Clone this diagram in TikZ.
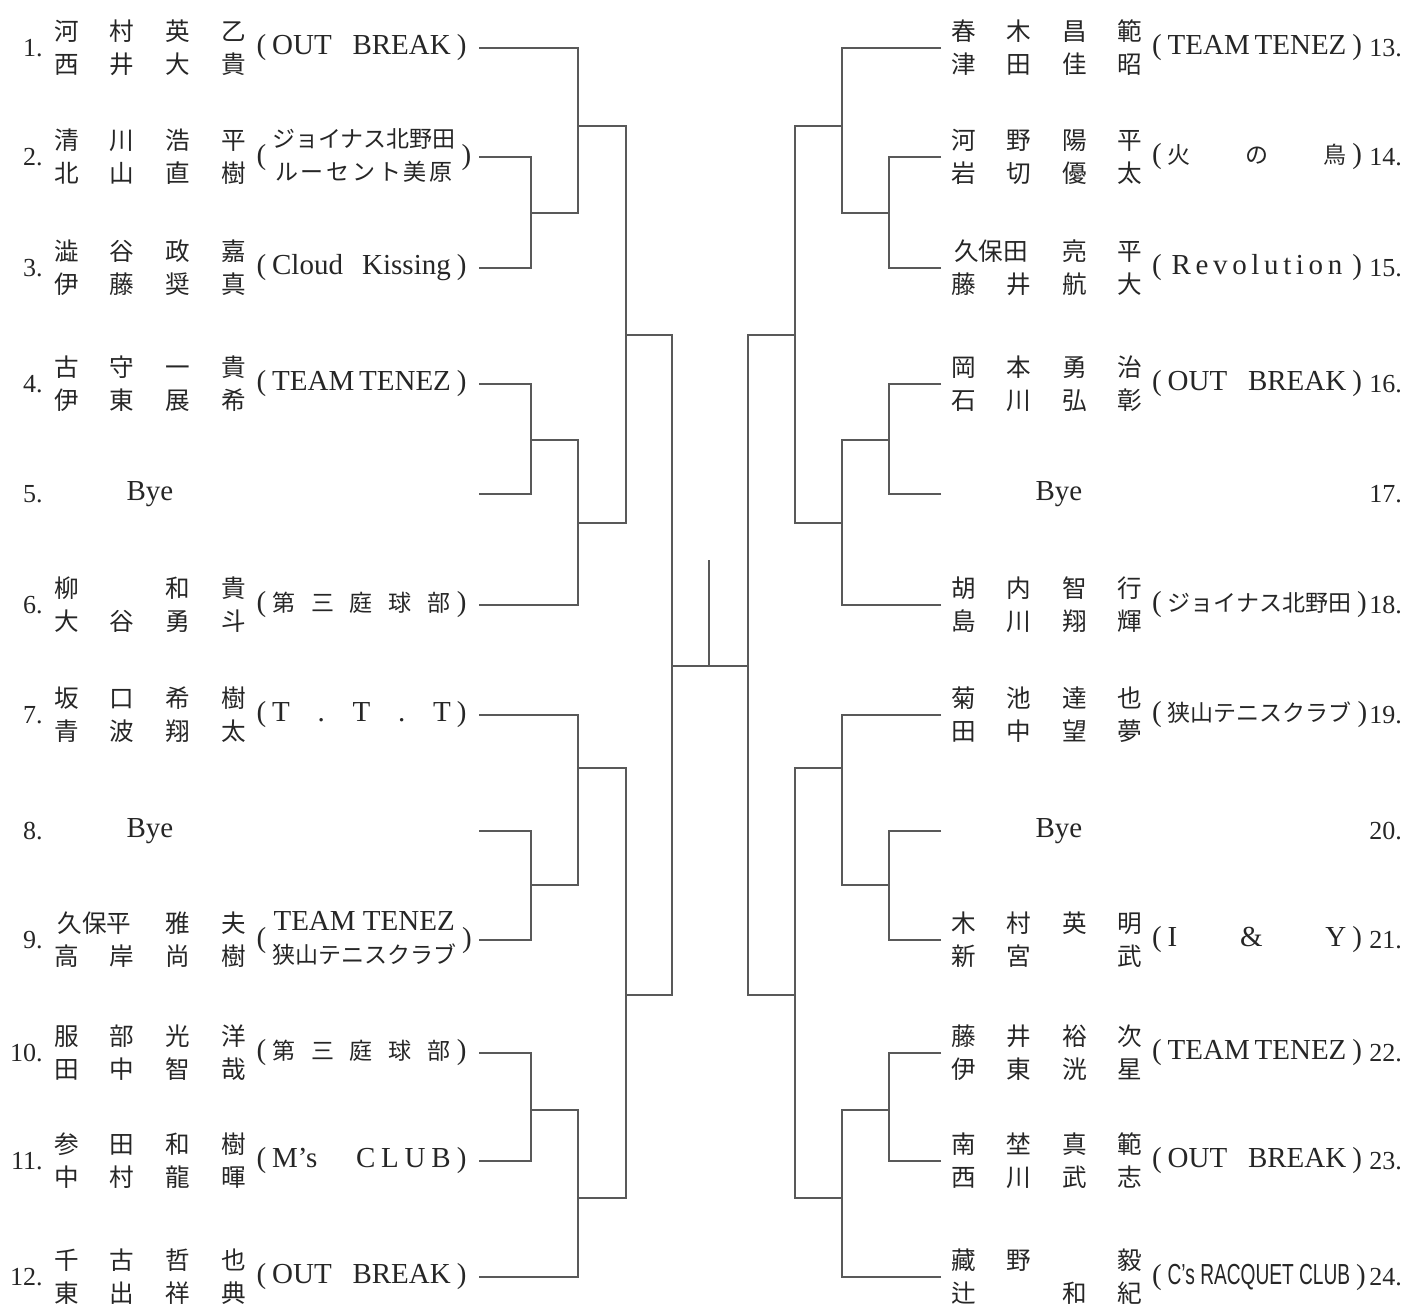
\documentclass[tikz,border=0pt]{standalone}
\usepackage{fontspec}
\usepackage{graphicx}
\setmainfont{Liberation Serif}
\newfontfamily\jp{Noto Sans CJK JP}
\newfontfamily\cnd{Liberation Sans}
\newcommand{\tj}{\fontsize{11.5pt}{16.5pt}\selectfont\jp}
\newcommand{\nr}[4]{\makebox[27.8pt]{#1}\makebox[27.8pt]{#2}\makebox[27.8pt]{#3}\makebox[27.8pt]{#4}}
\newcommand{\nrw}[3]{\makebox[55.6pt]{#1}\makebox[27.8pt]{#2}\makebox[27.8pt]{#3}}
\newcommand{\ls}[2]{{\addfontfeatures{LetterSpace=#1}#2}}
\newcommand{\tm}[1]{\makebox[105pt][s]{(\hspace{3pt}#1\hspace{3pt})}}
\newcommand{\twoline}[2]{\hfill\begin{tabular}{@{}c@{}}#1\\#2\end{tabular}\hfill}
\usetikzlibrary{positioning}

\begin{document}
\begin{tikzpicture}[
    x=0.5pt, y=-0.5pt,
    every node/.style={inner sep=0pt, text=black!85},
    num/.style={font=\fontsize{13pt}{15pt}\selectfont},
    player/.style={font=\fontsize{12.3pt}{16.5pt}\selectfont\jp, align=center},
    team/.style={font=\fontsize{14.5pt}{16.5pt}\selectfont},
    bye/.style={font=\fontsize{14.5pt}{16.5pt}\selectfont},
    line/.style={draw=black!65, line width=0.75pt}
]
    \useasboundingbox (0,0) rectangle (1408,1311);

    % left half
    \node (n1) [num, anchor=east] at (43,48) {1.};
    \node (p1) [player] at (150,48) {\nr{河}{村}{英}{乙}\\\nr{西}{井}{大}{貴}};
    \node (t1) [team] at (361.5,48) {\tm{OUT BREAK}};
    \node (n2) [num, anchor=east] at (43,157) {2.};
    \node (p2) [player] at (150,157) {\nr{清}{川}{浩}{平}\\\nr{北}{山}{直}{樹}};
    \node (t2) [team] at (361.5,157) {\tm{\twoline{\tj ジョイナス北野田}{\tj\ls{12}{ルーセント美原}}}};
    \node (n3) [num, anchor=east] at (43,268) {3.};
    \node (p3) [player] at (150,268) {\nr{澁}{谷}{政}{嘉}\\\nr{伊}{藤}{奨}{真}};
    \node (t3) [team] at (361.5,268) {\tm{Cloud Kissing}};
    \node (n4) [num, anchor=east] at (43,384) {4.};
    \node (p4) [player] at (150,384) {\nr{古}{守}{一}{貴}\\\nr{伊}{東}{展}{希}};
    \node (t4) [team] at (361.5,384) {\tm{TEAM TENEZ}};
    \node (n5) [num, anchor=east] at (43,494) {5.};
    \node (b5) [bye] at (150,494) {Bye};
    \node (n6) [num, anchor=east] at (43,605) {6.};
    \node (p6) [player] at (150,605) {\nr{柳}{}{和}{貴}\\\nr{大}{谷}{勇}{斗}};
    \node (t6) [team] at (361.5,605) {\tm{{\tj 第 三 庭 球 部}}};
    \node (n7) [num, anchor=east] at (43,715) {7.};
    \node (p7) [player] at (150,715) {\nr{坂}{口}{希}{樹}\\\nr{青}{波}{翔}{太}};
    \node (t7) [team] at (361.5,715) {\tm{T . T . T}};
    \node (n8) [num, anchor=east] at (43,831) {8.};
    \node (b8) [bye] at (150,831) {Bye};
    \node (n9) [num, anchor=east] at (43,940) {9.};
    \node (p9) [player] at (150,940) {\nrw{久保平}{雅}{夫}\\\nr{高}{岸}{尚}{樹}};
    \node (t9) [team] at (361.5,940) {\tm{\twoline{TEAM TENEZ}{\tj 狭山テニスクラブ}}};
    \node (n10) [num, anchor=east] at (43,1053) {10.};
    \node (p10) [player] at (150,1053) {\nr{服}{部}{光}{洋}\\\nr{田}{中}{智}{哉}};
    \node (t10) [team] at (361.5,1053) {\tm{{\tj 第 三 庭 球 部}}};
    \node (n11) [num, anchor=east] at (43,1161) {11.};
    \node (p11) [player] at (150,1161) {\nr{参}{田}{和}{樹}\\\nr{中}{村}{龍}{暉}};
    \node (t11) [team] at (361.5,1161) {\tm{M’s \ls{20}{CLUB}}};
    \node (n12) [num, anchor=east] at (43,1277) {12.};
    \node (p12) [player] at (150,1277) {\nr{千}{古}{哲}{也}\\\nr{東}{出}{祥}{典}};
    \node (t12) [team] at (361.5,1277) {\tm{OUT BREAK}};

    % right half
    \node (n13) [num, anchor=west] at (1369,48) {13.};
    \node (p13) [player] at (1046.7,48) {\nr{春}{木}{昌}{範}\\\nr{津}{田}{佳}{昭}};
    \node (t13) [team] at (1257,48) {\tm{TEAM TENEZ}};
    \node (n14) [num, anchor=west] at (1369,157) {14.};
    \node (p14) [player] at (1046.7,157) {\nr{河}{野}{陽}{平}\\\nr{岩}{切}{優}{太}};
    \node (t14) [team] at (1257,157) {\tm{{\tj 火 の 鳥}}};
    \node (n15) [num, anchor=west] at (1369,268) {15.};
    \node (p15) [player] at (1046.7,268) {\nrw{久保田}{亮}{平}\\\nr{藤}{井}{航}{大}};
    \node (t15) [team] at (1257,268) {\tm{\hfill\ls{16}{Revolution}\hfill}};
    \node (n16) [num, anchor=west] at (1369,384) {16.};
    \node (p16) [player] at (1046.7,384) {\nr{岡}{本}{勇}{治}\\\nr{石}{川}{弘}{彰}};
    \node (t16) [team] at (1257,384) {\tm{OUT BREAK}};
    \node (n17) [num, anchor=west] at (1369,494) {17.};
    \node (b17) [bye] at (1059,494) {Bye};
    \node (n18) [num, anchor=west] at (1369,605) {18.};
    \node (p18) [player] at (1046.7,605) {\nr{胡}{内}{智}{行}\\\nr{島}{川}{翔}{輝}};
    \node (t18) [team] at (1257,605) {\tm{\hfill{\tj ジョイナス北野田}\hfill}};
    \node (n19) [num, anchor=west] at (1369,715) {19.};
    \node (p19) [player] at (1046.7,715) {\nr{菊}{池}{達}{也}\\\nr{田}{中}{望}{夢}};
    \node (t19) [team] at (1257,715) {\tm{\hfill{\tj 狭山テニスクラブ}\hfill}};
    \node (n20) [num, anchor=west] at (1369,831) {20.};
    \node (b20) [bye] at (1059,831) {Bye};
    \node (n21) [num, anchor=west] at (1369,940) {21.};
    \node (p21) [player] at (1046.7,940) {\nr{木}{村}{英}{明}\\\nr{新}{宮}{}{武}};
    \node (t21) [team] at (1257,940) {\tm{I \& Y}};
    \node (n22) [num, anchor=west] at (1369,1053) {22.};
    \node (p22) [player] at (1046.7,1053) {\nr{藤}{井}{裕}{次}\\\nr{伊}{東}{洸}{星}};
    \node (t22) [team] at (1257,1053) {\tm{TEAM TENEZ}};
    \node (n23) [num, anchor=west] at (1369,1161) {23.};
    \node (p23) [player] at (1046.7,1161) {\nr{南}{埜}{真}{範}\\\nr{西}{川}{武}{志}};
    \node (t23) [team] at (1257,1161) {\tm{OUT BREAK}};
    \node (n24) [num, anchor=west] at (1369,1277) {24.};
    \node (p24) [player] at (1046.7,1277) {\nr{藏}{野}{}{毅}\\\nr{辻}{}{和}{紀}};
    \node (t24) [team] at (1257,1277) {\tm{\hfill\scalebox{0.66}[1]{\cnd C’s RACQUET CLUB}\hfill}};

    % line ends
    \coordinate (e1) at (479,48);
    \coordinate (e2) at (479,157);
    \coordinate (e3) at (479,268);
    \coordinate (e4) at (479,384);
    \coordinate (e5) at (479,494);
    \coordinate (e6) at (479,605);
    \coordinate (e7) at (479,715);
    \coordinate (e8) at (479,831);
    \coordinate (e9) at (479,940);
    \coordinate (e10) at (479,1053);
    \coordinate (e11) at (479,1161);
    \coordinate (e12) at (479,1277);
    \coordinate (e13) at (941,48);
    \coordinate (e14) at (941,157);
    \coordinate (e15) at (941,268);
    \coordinate (e16) at (941,384);
    \coordinate (e17) at (941,494);
    \coordinate (e18) at (941,605);
    \coordinate (e19) at (941,715);
    \coordinate (e20) at (941,831);
    \coordinate (e21) at (941,940);
    \coordinate (e22) at (941,1053);
    \coordinate (e23) at (941,1161);
    \coordinate (e24) at (941,1277);

    % rounds
    \coordinate (m23) at (531,213);
    \coordinate (q1) at (578,126);
    \coordinate (m45) at (531,440);
    \coordinate (q2) at (578,523);
    \coordinate (s1) at (626,335);
    \coordinate (q3) at (578,768);
    \coordinate (m89) at (531,885);
    \coordinate (m1011) at (531,1110);
    \coordinate (q4) at (578,1198);
    \coordinate (s2) at (626,995);
    \coordinate (fl) at (672,666);
    \coordinate (m1415) at (889,213);
    \coordinate (q5) at (842,126);
    \coordinate (m1617) at (889,440);
    \coordinate (q6) at (842,523);
    \coordinate (s3) at (795,335);
    \coordinate (q7) at (842,768);
    \coordinate (m2021) at (889,885);
    \coordinate (m2223) at (889,1110);
    \coordinate (q8) at (842,1198);
    \coordinate (s4) at (795,995);
    \coordinate (fr) at (748,666);
    \coordinate (champ) at (709,560);

    \draw [line] (e1) -| (q1);
    \draw [line] (e2) -| (m23);
    \draw [line] (e3) -| (m23);
    \draw [line] (m23) -| (q1);
    \draw [line] (e4) -| (m45);
    \draw [line] (e5) -| (m45);
    \draw [line] (m45) -| (q2);
    \draw [line] (e6) -| (q2);
    \draw [line] (q1) -| (s1);
    \draw [line] (q2) -| (s1);
    \draw [line] (e7) -| (q3);
    \draw [line] (e8) -| (m89);
    \draw [line] (e9) -| (m89);
    \draw [line] (m89) -| (q3);
    \draw [line] (e10) -| (m1011);
    \draw [line] (e11) -| (m1011);
    \draw [line] (m1011) -| (q4);
    \draw [line] (e12) -| (q4);
    \draw [line] (q3) -| (s2);
    \draw [line] (q4) -| (s2);
    \draw [line] (s1) -| (fl);
    \draw [line] (s2) -| (fl);

    \draw [line] (e13) -| (q5);
    \draw [line] (e14) -| (m1415);
    \draw [line] (e15) -| (m1415);
    \draw [line] (m1415) -| (q5);
    \draw [line] (e16) -| (m1617);
    \draw [line] (e17) -| (m1617);
    \draw [line] (m1617) -| (q6);
    \draw [line] (e18) -| (q6);
    \draw [line] (q5) -| (s3);
    \draw [line] (q6) -| (s3);
    \draw [line] (e19) -| (q7);
    \draw [line] (e20) -| (m2021);
    \draw [line] (e21) -| (m2021);
    \draw [line] (m2021) -| (q7);
    \draw [line] (e22) -| (m2223);
    \draw [line] (e23) -| (m2223);
    \draw [line] (m2223) -| (q8);
    \draw [line] (e24) -| (q8);
    \draw [line] (q7) -| (s4);
    \draw [line] (q8) -| (s4);
    \draw [line] (s3) -| (fr);
    \draw [line] (s4) -| (fr);

    \draw [line] (fl) -- (fr);
    \draw [line] (champ) -- (champ |- fl);
\end{tikzpicture}
\end{document}
